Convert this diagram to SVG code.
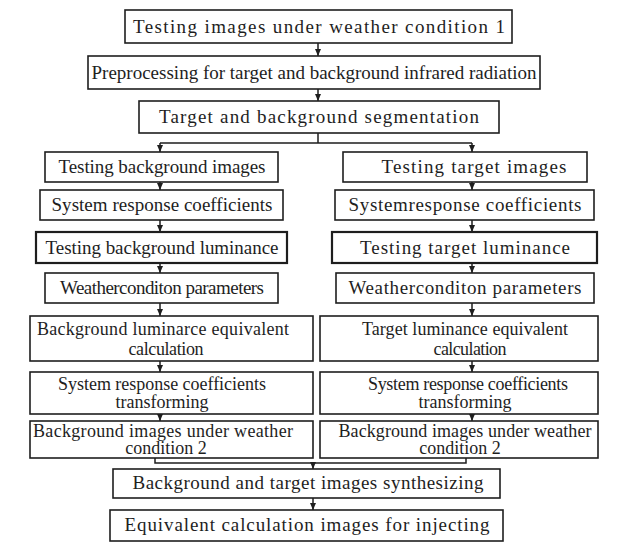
<svg xmlns="http://www.w3.org/2000/svg" width="621" height="543" viewBox="0 0 621 543">
<style>
.box{fill:#fff;stroke:#1e1e1e;stroke-width:1.6}
.box2{fill:#fff;stroke:#1e1e1e;stroke-width:2.2}
.t{font-family:"Liberation Serif","Times New Roman",serif;font-size:19px;fill:#1e1e1e;text-anchor:middle}
.s{font-size:18px}
.ln{fill:none;stroke:#1e1e1e;stroke-width:1.5}
</style>
<defs>
<marker id="ah" markerWidth="8" markerHeight="8" refX="7" refY="4" orient="auto" markerUnits="userSpaceOnUse">
<path d="M0,1 L7,4 L0,7 z" fill="#1e1e1e"/>
</marker>
</defs>
<rect width="621" height="543" fill="#fff"/>
<g id="connectors">
<line class="ln" x1="318" y1="43" x2="318" y2="56" marker-end="url(#ah)"/>
<line class="ln" x1="318" y1="89" x2="318" y2="101" marker-end="url(#ah)"/>
<path class="ln" d="M318,133 V143 M160,143 H472"/>
<line class="ln" x1="160" y1="143" x2="160" y2="152" marker-end="url(#ah)"/>
<line class="ln" x1="472" y1="143" x2="472" y2="152" marker-end="url(#ah)"/>
<line class="ln" x1="160" y1="182" x2="160" y2="190" marker-end="url(#ah)"/>
<line class="ln" x1="160" y1="220" x2="160" y2="232" marker-end="url(#ah)"/>
<line class="ln" x1="160" y1="263" x2="160" y2="273" marker-end="url(#ah)"/>
<line class="ln" x1="160" y1="303" x2="160" y2="316" marker-end="url(#ah)"/>
<line class="ln" x1="160" y1="361" x2="160" y2="372" marker-end="url(#ah)"/>
<line class="ln" x1="160" y1="414" x2="160" y2="421" marker-end="url(#ah)"/>
<line class="ln" x1="472" y1="182" x2="472" y2="190" marker-end="url(#ah)"/>
<line class="ln" x1="472" y1="220" x2="472" y2="232" marker-end="url(#ah)"/>
<line class="ln" x1="472" y1="263" x2="472" y2="273" marker-end="url(#ah)"/>
<line class="ln" x1="472" y1="303" x2="472" y2="316" marker-end="url(#ah)"/>
<line class="ln" x1="472" y1="361" x2="472" y2="372" marker-end="url(#ah)"/>
<line class="ln" x1="472" y1="414" x2="472" y2="421" marker-end="url(#ah)"/>
<path class="ln" d="M155,458 V463 H466 V458"/>
<line class="ln" x1="313" y1="463" x2="313" y2="469" marker-end="url(#ah)"/>
<line class="ln" x1="313" y1="498" x2="313" y2="510" marker-end="url(#ah)"/>
</g>
<g id="n1"><rect class="box" x="125" y="10" width="387" height="33"/><text class="t" x="319" y="33" textLength="372" lengthAdjust="spacing">Testing images under weather condition 1</text></g>
<g id="n2"><rect class="box" x="88" y="56" width="452" height="33"/><text class="t" x="314" y="79" textLength="445" lengthAdjust="spacing">Preprocessing for target and background infrared radiation</text></g>
<g id="n3"><rect class="box" x="139" y="101" width="360" height="32"/><text class="t" x="319" y="123" textLength="320" lengthAdjust="spacing">Target and background segmentation</text></g>
<g id="n4"><rect class="box" x="45" y="152" width="233" height="30"/><text class="t" x="162" y="173" textLength="207" lengthAdjust="spacing">Testing background images</text></g>
<g id="n5"><rect class="box" x="40" y="190" width="243" height="30"/><text class="t" x="162" y="211" textLength="221" lengthAdjust="spacing">System response coefficients</text></g>
<g id="n6"><rect class="box2" x="36" y="232" width="251" height="31"/><text class="t" x="162" y="254" textLength="233" lengthAdjust="spacing">Testing background luminance</text></g>
<g id="n7"><rect class="box" x="45" y="273" width="233" height="30"/><text class="t" x="162" y="294" textLength="204" lengthAdjust="spacing">Weatherconditon parameters</text></g>
<g id="n8"><rect class="box" x="30" y="316" width="283" height="45"/><text class="t s" x="163" y="335" textLength="252" lengthAdjust="spacing">Background  luminarce equivalent</text><text class="t s" x="166" y="355" textLength="75" lengthAdjust="spacing">calculation</text></g>
<g id="n9"><rect class="box" x="30" y="372" width="283" height="42"/><text class="t s" x="162" y="390" textLength="208" lengthAdjust="spacing">System response coefficients</text><text class="t s" x="162" y="408">transforming</text></g>
<g id="n10"><rect class="box" x="30" y="421" width="283" height="37"/><text class="t s" x="163" y="437" textLength="260" lengthAdjust="spacing">Background images under weather</text><text class="t s" x="166" y="454">condition 2</text></g>
<g id="n11"><rect class="box" x="343" y="152" width="244" height="30"/><text class="t" x="474" y="173" textLength="185" lengthAdjust="spacing">Testing target images</text></g>
<g id="n12"><rect class="box" x="335" y="190" width="259" height="30"/><text class="t" x="465" y="211" textLength="233" lengthAdjust="spacing">Systemresponse coefficients</text></g>
<g id="n13"><rect class="box2" x="332" y="232" width="265" height="31"/><text class="t" x="465" y="254" textLength="210" lengthAdjust="spacing">Testing target luminance</text></g>
<g id="n14"><rect class="box" x="336" y="273" width="258" height="30"/><text class="t" x="465" y="294" textLength="233" lengthAdjust="spacing">Weatherconditon parameters</text></g>
<g id="n15"><rect class="box" x="320" y="316" width="278" height="45"/><text class="t s" x="465" y="335" textLength="206" lengthAdjust="spacing">Target luminance equivalent</text><text class="t s" x="470" y="355" textLength="73" lengthAdjust="spacing">calculation</text></g>
<g id="n16"><rect class="box" x="320" y="372" width="278" height="42"/><text class="t s" x="468" y="390" textLength="200" lengthAdjust="spacing">System response coefficients</text><text class="t s" x="465" y="408">transforming</text></g>
<g id="n17"><rect class="box" x="320" y="421" width="278" height="37"/><text class="t s" x="465" y="437" textLength="253" lengthAdjust="spacing">Background images under weather</text><text class="t s" x="460" y="454">condition 2</text></g>
<g id="n18"><rect class="box" x="113" y="469" width="387" height="29"/><text class="t" x="308" y="489" textLength="351" lengthAdjust="spacing">Background and target images synthesizing</text></g>
<g id="n19"><rect class="box" x="110" y="510" width="393" height="31"/><text class="t" x="307" y="531" textLength="365" lengthAdjust="spacing">Equivalent calculation images for injecting</text></g>
</svg>
